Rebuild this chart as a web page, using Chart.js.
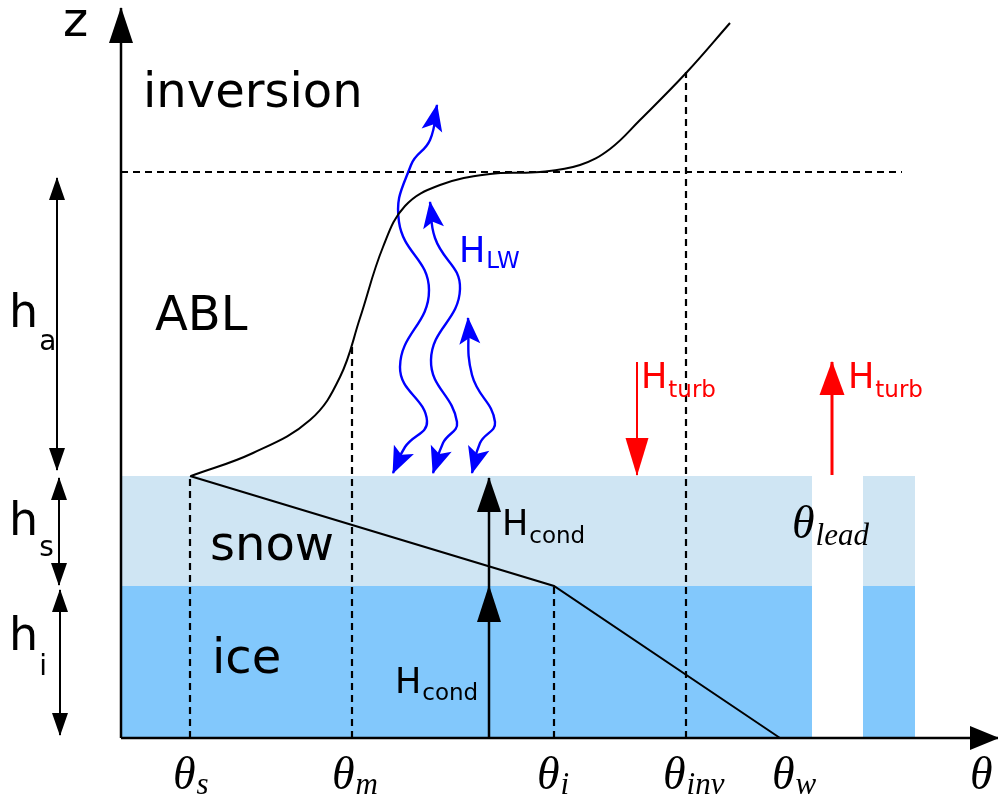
<!DOCTYPE html>
<html>
<head>
<meta charset="utf-8">
<script src="https://cdn.jsdelivr.net/npm/chart.js@4.4.1/dist/chart.umd.min.js"></script>
<style>
  html, body { margin: 0; padding: 0; background: #ffffff; }
  #wrap { width: 998px; height: 794px; position: relative; }
</style>
</head>
<body>
<div id="wrap"><canvas id="c"></canvas></div>
<script>
// ---- Schematic of the sea-ice / snow / boundary-layer temperature profile ----
// x: potential temperature θ, y: height z (schematic units, origin at the axes' crossing)

// Layer extents
const iceZ = [0, 152];
const snowZ = [152, 262];
const inversionZ = 566;
const floeTheta = [0, 691];
const leadFloeTheta = [742, 794];
const inversionTheta = [0, 781];

// Characteristic temperatures on the θ axis and where their guide lines stop
const thetaNames = ['s', 'm', 'i', 'inv', 'w'];
const thetaValues = [69, 231, 433, 565, 659];
const thetaGuideTop = [262, 396, 152, 666, 0];

// Air temperature profile θ(z) above the snow
const airTheta = [70, 132, 189, 219, 239, 262, 284, 319, 369, 419, 459, 489, 519, 566, 609];
const airZ     = [262, 285, 318, 361, 420, 491, 532, 553, 564, 566, 573, 589, 618, 666, 715];

// Conductive profile through snow and ice
const condTheta = [69, 433, 659];
const condZ = [262, 152, 0];

// Long-wave radiation paths (wavy, emitted and received at the surface)
const lw1Theta = [272, 284, 306, 279, 308, 278, 290, 309, 316];
const lw1Z     = [265, 291, 317, 371, 448, 516, 573, 598, 633];
const lw2Theta = [312, 322, 336, 310, 339, 314, 309];
const lw2Z     = [265, 295, 316, 378, 449, 500, 536];
const lw3Theta = [351, 359, 374, 351, 347];
const lw3Z     = [265, 295, 316, 363, 420];

// Turbulent fluxes (over the floe: downward; over the lead: upward)
const turbFloeTheta = 516, turbLeadTheta = 711;
const turbZ = [376, 263];
// Conductive flux arrows
const condFluxTheta = 368;
const condFluxIceZ = [0, 152];
const condFluxSnowZ = [152, 260];

// Layer thickness markers
const dimTheta = [-64, -62, -61];
const dimAtmZ = [560, 268];
const dimSnowZ = [260, 153];
const dimIceZ = [148, 3];

// Axes
const zAxisTop = 730;
const thetaAxisEnd = 877;

const BLACK = '#000000', BLUE = '#0000ff', RED = '#ff0000';
const SNOW = '#cfe5f3', ICE = '#82c8fc';

const pts = (xs, ys) => xs.map((x, i) => ({ x: x, y: ys[i] }));
const hline = (x0, x1, y) => [{ x: x0, y: y }, { x: x1, y: y }];
const vline = (x, y0, y1) => [{ x: x, y: y0 }, { x: x, y: y1 }];

function line(data, extra) {
  return Object.assign({
    data: data, borderColor: BLACK, borderWidth: 2, pointRadius: 0,
    fill: false, tension: 0, clip: false, order: 0
  }, extra || {});
}
function block(x0, x1, top, bottom, color) {
  return line(hline(x0, x1, top), {
    borderWidth: 0, borderColor: color, backgroundColor: color,
    fill: { value: bottom }, order: 10
  });
}
const DASH = { borderDash: [7, 5], borderWidth: 2.2 };
const blueHeads = [{ at: 'start', len: 26, w: 22, notch: 6 }, { at: 'end', len: 26, w: 21, notch: 6 }];
const dimHeads = [{ at: 'start', len: 22, w: 16 }, { at: 'end', len: 22, w: 16 }];
const WAVE = { borderColor: BLUE, borderWidth: 2.4, tension: 0.45, heads: blueHeads };

const datasets = [
  // snow and ice slabs (floe and small floe beyond the lead)
  block(floeTheta[0], floeTheta[1], snowZ[1], snowZ[0], SNOW),
  block(floeTheta[0], floeTheta[1], iceZ[1], iceZ[0], ICE),
  block(leadFloeTheta[0], leadFloeTheta[1], snowZ[1], snowZ[0], SNOW),
  block(leadFloeTheta[0], leadFloeTheta[1], iceZ[1], iceZ[0], ICE),

  // inversion height
  line(hline(inversionTheta[0], inversionTheta[1], inversionZ), DASH),
  // temperature guide lines
  ...thetaValues.map((v, i) => line(vline(v, 0, thetaGuideTop[i]), DASH)).filter((d, i) => thetaGuideTop[i] > 0),

  // profiles
  line(pts(airTheta, airZ), { tension: 0.4 }),
  line(pts(condTheta, condZ)),

  // long-wave radiation
  line(pts(lw1Theta, lw1Z), WAVE),
  line(pts(lw2Theta, lw2Z), WAVE),
  line(pts(lw3Theta, lw3Z), WAVE),

  // turbulent fluxes
  line(vline(turbFloeTheta, turbZ[0], turbZ[1]), { borderColor: RED, borderWidth: 2,
    heads: [{ at: 'end', len: 37, w: 23 }] }),
  line(vline(turbLeadTheta, turbZ[1], turbZ[0]), { borderColor: RED, borderWidth: 3,
    heads: [{ at: 'end', len: 33, w: 25 }] }),

  // conductive fluxes
  line(vline(condFluxTheta, condFluxIceZ[0], condFluxIceZ[1]), { borderWidth: 2.5,
    heads: [{ at: 'end', len: 36, w: 24 }] }),
  line(vline(condFluxTheta, condFluxSnowZ[0], condFluxSnowZ[1]), { borderWidth: 2.5,
    heads: [{ at: 'end', len: 34, w: 24 }] }),

  // layer thickness markers
  line(vline(dimTheta[0], dimAtmZ[0], dimAtmZ[1]), { heads: dimHeads }),
  line(vline(dimTheta[1], dimSnowZ[0], dimSnowZ[1]), { heads: dimHeads }),
  line(vline(dimTheta[2], dimIceZ[0], dimIceZ[1]), { heads: dimHeads }),

  // axes
  line(vline(0, 0, zAxisTop), { borderWidth: 2.5, heads: [{ at: 'end', len: 35, w: 24 }] }),
  line(hline(0, thetaAxisEnd, 0), { borderWidth: 2.5, heads: [{ at: 'end', len: 28, w: 24 }] })
];

// Arrowheads at the ends of flagged datasets, oriented along the end segment
const arrowHeads = {
  id: 'arrowHeads',
  afterDatasetsDraw(chart) {
    const ctx = chart.ctx;
    chart.data.datasets.forEach((ds, i) => {
      if (!ds.heads) return;
      const el = chart.getDatasetMeta(i).data;
      const n = el.length;
      ds.heads.forEach((h) => {
        const tip = h.at === 'start' ? el[0] : el[n - 1];
        const prev = h.at === 'start' ? el[1] : el[n - 2];
        const a = Math.atan2(tip.y - prev.y, tip.x - prev.x);
        ctx.save();
        ctx.translate(tip.x, tip.y);
        ctx.rotate(a);
        ctx.beginPath();
        ctx.moveTo(1, 0);
        ctx.lineTo(-h.len, h.w / 2);
        ctx.lineTo(-h.len + (h.notch || 0), 0);
        ctx.lineTo(-h.len, -h.w / 2);
        ctx.closePath();
        ctx.fillStyle = ds.borderColor;
        ctx.fill();
        ctx.restore();
      });
    });
  }
};

// Text annotations placed in data coordinates
const SANS = '"DejaVu Sans", sans-serif';
const SERIF = '"Liberation Serif", "DejaVu Serif", serif';
const thetaLabelX = [52, 211, 416, 542, 651];
const annotations = [
  { t: 'z', x: -58, y: 702, font: '48px ' + SANS },
  { t: 'inversion', x: 22, y: 631, font: '48px ' + SANS },
  { t: 'ABL', x: 34, y: 408, font: '48px ' + SANS },
  { t: 'snow', x: 89, y: 178, font: '48px ' + SANS },
  { t: 'ice', x: 91, y: 65, font: '48px ' + SANS },
  { t: 'h', sub: 'a', x: -112, y: 411, dy: 23, font: '46px ' + SANS, subFont: '28px ' + SANS },
  { t: 'h', sub: 's', x: -112, y: 203, dy: 21, font: '46px ' + SANS, subFont: '28px ' + SANS },
  { t: 'h', sub: 'i', x: -112, y: 88, dy: 25, font: '46px ' + SANS, subFont: '28px ' + SANS },
  { t: 'H', sub: 'LW', x: 338, y: 476, dy: 6, font: '35px ' + SANS, subFont: '23px ' + SANS, color: BLUE },
  { t: 'H', sub: 'cond', x: 381, y: 203, dy: 8, font: '35px ' + SANS, subFont: '23px ' + SANS },
  { t: 'H', sub: 'cond', x: 274, y: 45, dy: 7, font: '35px ' + SANS, subFont: '23px ' + SANS },
  { t: 'H', sub: 'turb', x: 520, y: 350, dy: 9, font: '35px ' + SANS, subFont: '23px ' + SANS, color: RED },
  { t: 'H', sub: 'turb', x: 727, y: 350, dy: 9, font: '35px ' + SANS, subFont: '23px ' + SANS, color: RED },
  { t: 'θ', sub: 'lead', x: 671, y: 200, dy: 7, font: 'italic 46px ' + SERIF, subFont: 'italic 31px ' + SERIF },
  ...thetaNames.map((s, i) => ({ t: 'θ', sub: s, x: thetaLabelX[i], y: -51, dy: 5,
    font: 'italic 46px ' + SERIF, subFont: 'italic 31px ' + SERIF })),
  { t: 'θ', x: 849, y: -51, font: 'italic 46px ' + SERIF }
];

const textLabels = {
  id: 'textLabels',
  afterDraw(chart) {
    const ctx = chart.ctx;
    const sx = chart.scales.x, sy = chart.scales.y;
    ctx.save();
    ctx.textAlign = 'left';
    ctx.textBaseline = 'alphabetic';
    annotations.forEach((a) => {
      const px = sx.getPixelForValue(a.x);
      const py = sy.getPixelForValue(a.y);
      ctx.fillStyle = a.color || BLACK;
      ctx.font = a.font;
      ctx.fillText(a.t, px, py);
      if (a.sub) {
        const w = ctx.measureText(a.t).width;
        ctx.font = a.subFont;
        ctx.fillText(a.sub, px + w + 1, py + a.dy);
      }
    });
    ctx.restore();
  }
};

new Chart(document.getElementById('c'), {
  type: 'line',
  data: { datasets: datasets },
  options: {
    responsive: true,
    maintainAspectRatio: false,
    animation: false,
    layout: { padding: 0 },
    events: [],
    plugins: { legend: { display: false }, tooltip: { enabled: false } },
    scales: {
      x: { type: 'linear', min: -121, max: 877, display: false },
      y: { type: 'linear', min: -56, max: 738, display: false }
    }
  },
  plugins: [arrowHeads, textLabels]
});
</script>
</body>
</html>
